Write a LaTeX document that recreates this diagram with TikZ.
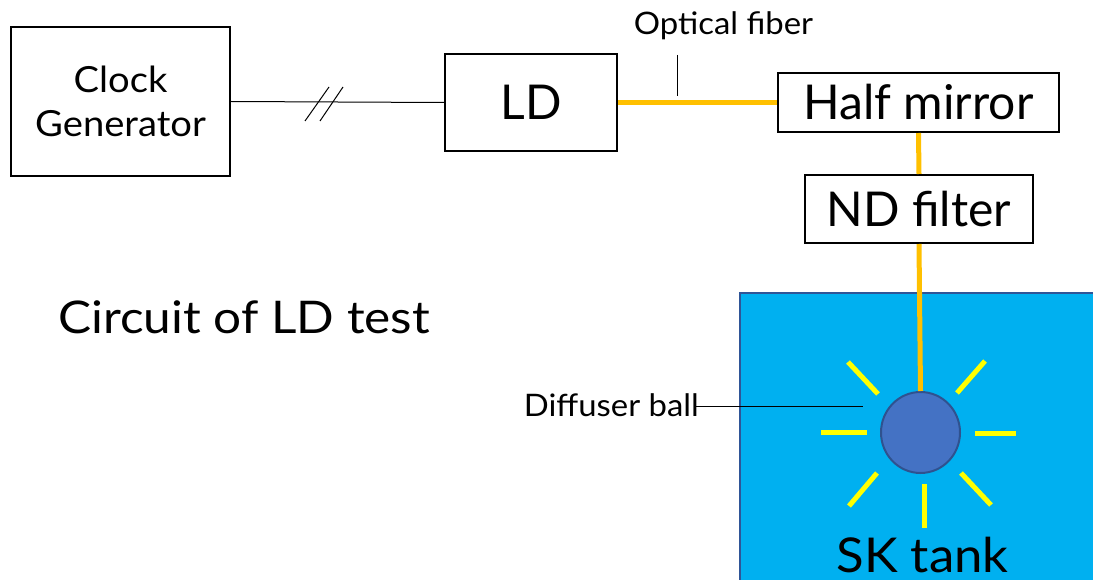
\documentclass[tikz,border=0pt]{standalone}
\usepackage{fontspec}
\setmainfont{Lato}
\newfontfamily\widefont{Lato}[FakeStretch=1.06]
\newfontfamily\widerfont{Lato}[FakeStretch=1.1]
\usetikzlibrary{shapes.geometric}
\definecolor{fiber}{HTML}{FFC000}
\definecolor{ray}{HTML}{FFFF00}
\definecolor{tankfill}{HTML}{00B0F0}
\definecolor{tankline}{HTML}{2F5597}
\definecolor{ballfill}{HTML}{4472C4}
\definecolor{ballline}{HTML}{2F528F}
\begin{document}
\begin{tikzpicture}[x=1pt,y=-1pt,
  box/.style={draw, line width=2pt, rectangle, inner sep=0pt, align=center},
  fib/.style={draw=fiber, line width=5pt},
  rayline/.style={draw=ray, line width=5pt},
  wire/.style={line width=1pt},
  bigtxt/.style={font=\fontsize{48}{56}\selectfont},
  lbl/.style={inner sep=0pt, font=\widefont\fontsize{31}{36}\selectfont}]
\useasboundingbox (0,0) rectangle (1093,580);
% tank
\fill[tankfill] (740,293) rectangle (1100,590);
\draw[tankline, line width=2pt] (740,590) -- (740,293) -- (1100,293);
% boxes
\node[box, minimum width=219pt, minimum height=149pt, font=\widefont\fontsize{36}{44}\selectfont] (clk) at (120.5,101.5) {Clock\\Generator};
\node[box, bigtxt, minimum width=172pt, minimum height=97pt] (ld) at (531,102.5) {LD};
\node[box, bigtxt, minimum width=281pt, minimum height=59pt] (hm) at (918.5,102.5) {Half mirror};
\node[box, bigtxt, minimum width=228pt, minimum height=68pt] (nd) at (919,209) {ND filter};
% ball
\node[ellipse, minimum width=79pt, minimum height=81pt, inner sep=0pt, fill=ballfill, draw=ballline, line width=2pt] (ball) at (920.5,432.5) {};
% connections
\draw[wire] (clk.east) -- (ld.west);
\draw[wire] (305,121) -- (329,87);
\draw[wire] (320,121) -- (343,87);
\draw[fib] (ld.east) -- (hm.west);
\draw[fib] (hm.south) -- (nd.north);
\draw[fib] (nd.south) -- (ball.north);
% labels
\node[lbl, anchor=base] (of) at (723.5,35) {Optical fiber};
\coordinate (oftop) at (677,55);
\coordinate (ofbot) at (677,96);
\draw[wire] (oftop) -- (ofbot);
\node[lbl, anchor=base east] (diff) at (699,416) {Diffuser ball};
\coordinate (diffa) at (695,406);
\coordinate (diffb) at (863,406);
\draw[wire] (diffa) -- (diffb);
\node[inner sep=0pt, anchor=base west, font=\widerfont\fontsize{45}{52}\selectfont] (title) at (58,333) {Circuit of LD test};
\node[inner sep=0pt, anchor=base, font=\widefont\fontsize{48}{56}\selectfont] (sk) at (922.5,572) {SK tank};
% rays
\draw[rayline] (848,362) -- (878,394);
\draw[rayline] (985,361) -- (957,393);
\draw[rayline] (821,432) -- (867,432);
\draw[rayline] (975,433) -- (1016,433);
\draw[rayline] (877,473) -- (849,506);
\draw[rayline] (961,473) -- (991,505);
\draw[rayline] (924,484) -- (924,528);
\end{tikzpicture}
\end{document}
